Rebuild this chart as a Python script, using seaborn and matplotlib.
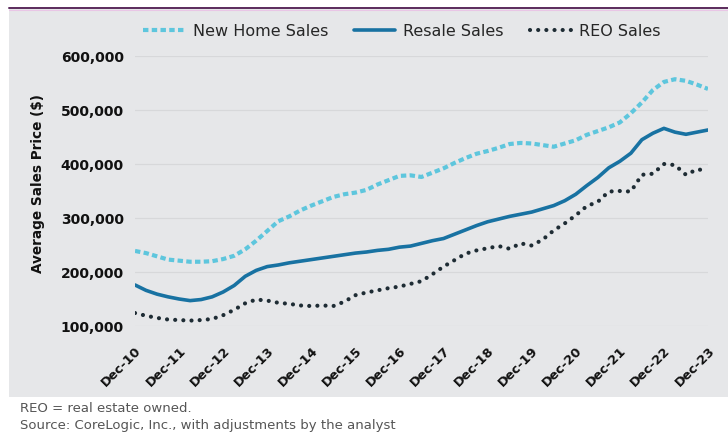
import matplotlib
matplotlib.use("Agg")
import matplotlib.pyplot as plt
import seaborn as sns
import numpy as np
import pandas as pd
from matplotlib.patches import Rectangle
from matplotlib.lines import Line2D
from matplotlib.ticker import FuncFormatter

# Quarterly readings, Dec-10 .. Dec-23 (thousands of $)
new_home = [239, 235, 229, 223, 221, 219, 219, 220, 224, 230, 242, 258, 276, 294, 303, 314,
            323, 331, 339, 344, 347, 352, 362, 370, 378, 379, 376, 384, 392, 402, 411, 419,
            424, 430, 437, 439, 438, 435, 432, 438, 444, 454, 461, 468, 477, 494, 514, 537,
            552, 557, 554, 547, 539]
resale = [176, 166, 159, 154, 150, 147, 149, 154, 163, 175, 192, 203, 210, 213, 217, 220,
          223, 226, 229, 232, 235, 237, 240, 242, 246, 248, 253, 258, 262, 270, 278, 286,
          293, 298, 303, 307, 311, 317, 323, 332, 344, 360, 375, 393, 405, 420, 445, 457,
          466, 459, 455, 459, 463]
reo = [124, 119, 115, 112, 111, 110, 111, 113, 120, 130, 142, 149, 147, 143, 141, 138,
       137, 138, 137, 145, 157, 162, 166, 170, 173, 178, 183, 196, 210, 222, 234, 240,
       244, 248, 243, 253, 249, 260, 277, 290, 305, 322, 330, 349, 350, 349, 380, 382,
       400, 398, 380, 390, 388]
tick_labels = ["Dec-10", "Dec-11", "Dec-12", "Dec-13", "Dec-14", "Dec-15", "Dec-16",
               "Dec-17", "Dec-18", "Dec-19", "Dec-20", "Dec-21", "Dec-22", "Dec-23"]
series_names = ["New Home Sales", "Resale Sales", "REO Sales"]

quarters = np.arange(len(new_home))
df = pd.DataFrame({"q": quarters,
                   "New Home Sales": np.array(new_home) * 1000,
                   "Resale Sales": np.array(resale) * 1000,
                   "REO Sales": np.array(reo) * 1000})

sns.set_style("white")
plt.rcParams["font.family"] = ["DejaVu Sans"]

W, H = 728, 433
fig = plt.figure(figsize=(W / 100, H / 100), dpi=100)
fig.patch.set_facecolor("white")

panel_col = "#e6e7e9"
fig.add_artist(Rectangle((9 / W, 1 - 397 / H), 1 - 9 / W, (397 - 8) / H,
                         transform=fig.transFigure, facecolor=panel_col,
                         edgecolor="none", zorder=-5))
fig.add_artist(Line2D([9 / W, 1], [1 - 8 / H, 1 - 8 / H], transform=fig.transFigure,
                      color="#5b2a5c", lw=1.4, zorder=-4))
fig.add_artist(Line2D([9 / W, 1], [1 - 9.5 / H, 1 - 9.5 / H], transform=fig.transFigure,
                      color="#e9c6e6", lw=0.8, zorder=-4))

ax = fig.add_axes([135 / W, 1 - 326 / H, (708 - 135) / W, (326 - 56) / H])
ax.set_facecolor("none")
ax.set_zorder(2)

c_new, c_res, c_reo = "#5ec6dd", "#1872a2", "#1e2c34"
sns.lineplot(data=df, x="q", y="New Home Sales", ax=ax, color=c_new, lw=3.0,
             label=series_names[0])
sns.lineplot(data=df, x="q", y="Resale Sales", ax=ax, color=c_res, lw=2.6,
             label=series_names[1])
sns.lineplot(data=df, x="q", y="REO Sales", ax=ax, color=c_reo, lw=3.0,
             label=series_names[2])
lines = ax.get_lines()
lines[0].set_dashes([1.3, 0.8])
lines[0].set_dash_capstyle("butt")
lines[2].set_dashes([0.01, 1.95])
lines[2].set_dash_capstyle("round")
lines[1].set_solid_capstyle("round")

ax.set_xlim(0, len(new_home) - 1)
ax.set_ylim(100000, 600000)
ax.set_yticks(np.arange(100000, 600001, 100000))
ax.yaxis.set_major_formatter(FuncFormatter(lambda v, p: f"{int(v):,}"))
ax.set_xticks(np.arange(0, len(new_home), 4))
ax.set_xticklabels(tick_labels, rotation=45, ha="right", rotation_mode="anchor",
                   fontweight="bold", fontsize=9.3)
for t in ax.get_yticklabels():
    t.set_fontweight("bold")
    t.set_fontsize(10)
ax.tick_params(axis="y", length=0, pad=8, colors="#111111")
ax.tick_params(axis="x", length=0, pad=13, colors="#111111")
ax.grid(axis="y", color="#d7d8da", lw=0.9)
ax.set_axisbelow(True)
for s in ax.spines.values():
    s.set_visible(False)
ax.set_xlabel("")
ax.set_ylabel("Average Sales Price ($)", fontweight="bold", fontsize=9.8,
              color="#111111")
ax.yaxis.set_label_coords((45 - 135) / 573, (326 - 184) / 270)
ax.get_legend().remove()

handles, labels = ax.get_legend_handles_labels()
fig.legend(handles, labels, loc="center", bbox_to_anchor=(402 / W, 1 - 31 / H),
           ncol=3, frameon=False, fontsize=11.5, handlelength=2.6, columnspacing=1.6,
           handletextpad=0.5)

foot_kw = dict(fontsize=9.5, color="#555555",
               family=["Liberation Sans Narrow", "DejaVu Sans"])
fig.text(20 / W, 1 - 409 / H, "REO = real estate owned.", va="center", **foot_kw)
fig.text(20 / W, 1 - 426 / H, "Source: CoreLogic, Inc., with adjustments by the analyst",
         va="center", **foot_kw)

fig.savefig("out.png", dpi=100, facecolor="white")
